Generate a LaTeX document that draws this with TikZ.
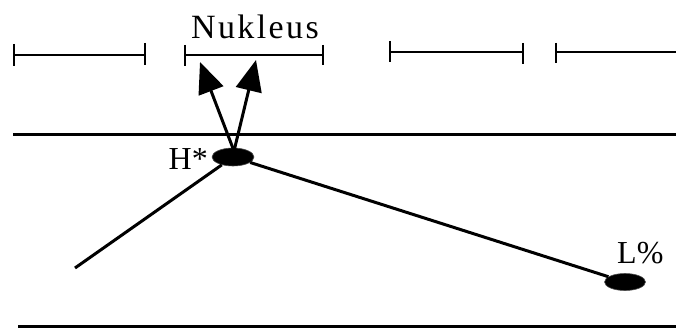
\documentclass[tikz,border=0pt]{standalone}
\usepackage{fontspec}
\setmainfont{Liberation Serif}
\usetikzlibrary{arrows.meta,shapes.geometric}
\tikzset{
  ln/.style={line width=3pt},
  tickln/.style={line width=2.8pt},
  dot/.style={ellipse, fill=black, draw=black!70, line width=0.6pt, inner sep=0pt},
  lbl/.style={font=\fontsize{32}{32}\selectfont, inner sep=0pt},
  biglbl/.style={font=\fontsize{34}{34}\selectfont, inner sep=0pt},
  bigarrow/.style={line width=3pt, -{Triangle[length=31pt,width=26pt]}, shorten >=0pt}
}
\begin{document}
\begin{tikzpicture}[x=1pt,y=-1pt]
\useasboundingbox (0,0) rectangle (676,329);
% brackets
\draw[tickln] (14,55) -- (145,55);
\draw[tickln] (14,44) -- (14,66);
\draw[tickln] (145,43) -- (145,65);
\draw[tickln] (185,55) -- (323,55);
\draw[tickln] (185,45) -- (185,66);
\draw[tickln] (323,45) -- (323,65);
\draw[tickln] (390,52) -- (523,52);
\draw[tickln] (390,41) -- (390,62);
\draw[tickln] (523,43) -- (523,64);
\draw[tickln] (555,52) -- (676,52);
\draw[tickln] (556,43) -- (556,63);
% label
\node[biglbl, anchor=base] (nuk) at (255,38) {\addfontfeature{LetterSpace=7}Nukleus};
% horizontal lines
\draw[ln] (13,134) -- (676,134);
\draw[ln] (18,326) -- (676,326);
% tone nodes
\node[dot, minimum width=42pt, minimum height=18pt] (H) at (233,157) {};
\node[dot, minimum width=41pt, minimum height=17pt] (L) at (625,282) {};
\node[lbl, anchor=base east] (Ht) at (208,169) {H*};
\node[lbl, anchor=base west] (Lt) at (617,263) {L\%};
\coordinate (start) at (75,268);
\coordinate (t1) at (200,62);
\coordinate (t2) at (256,60);
\coordinate (o) at (234,151);
% contour
\draw[ln] (start) -- (H);
\draw[ln] (H) -- (L);
% arrows
\draw[bigarrow] (o) -- (t1);
\draw[bigarrow] (o) -- (t2);
\end{tikzpicture}
\end{document}
